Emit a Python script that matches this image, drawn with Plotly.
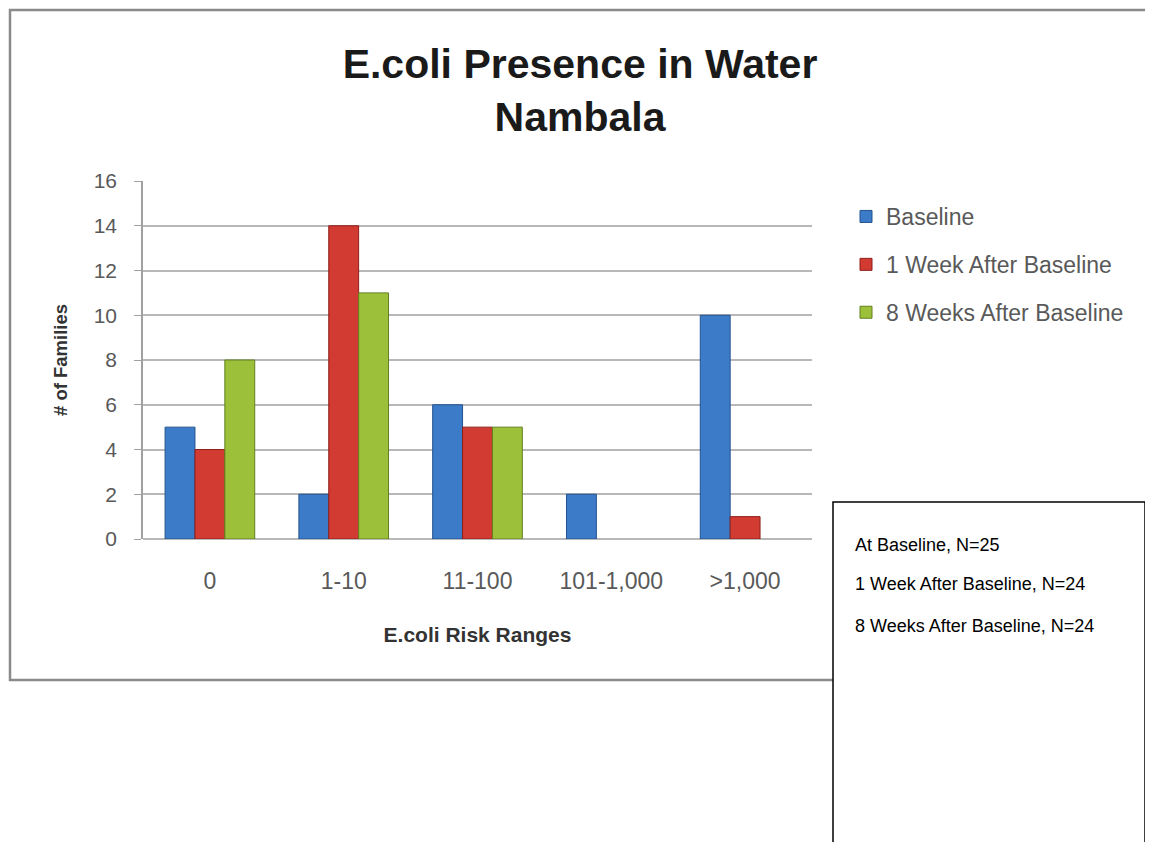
import plotly.graph_objects as go

categories = ["0", "1-10", "11-100", "101-1,000", ">1,000"]
baseline = [5, 2, 6, 2, 10]
week1 = [4, 14, 5, 0, 1]
week8 = [8, 11, 5, 0, 0]
y_ticks = [0, 2, 4, 6, 8, 10, 12, 14, 16]
notes = ["At Baseline, N=25", "1 Week After Baseline, N=24", "8 Weeks After Baseline, N=24"]

OFF = 8  # page body margin
W, H = 1153 - OFF, 842 - OFF
L, R, T, B = 143, 812, 181, 539  # plot area, screen pixels


def px(x):
    return (x - L) / (R - L)


def py(y):
    return (B - y) / (B - T)


font = "Liberation Sans"
fig = go.Figure()

series = [
    ("Baseline", baseline, "#3b7bc8", "#24528f"),
    ("1 Week After Baseline", week1, "#d13b32", "#8e1f1a"),
    ("8 Weeks After Baseline", week8, "#9cc03a", "#62801e"),
]
for i, (name, vals, col, edge) in enumerate(series):
    fig.add_trace(
        go.Bar(
            x=categories,
            y=vals,
            name=name,
            legendgroup=str(i),
            marker=dict(
                color=col,
                line=dict(color=edge, width=[1 if v else 0 for v in vals]),
            ),
        )
    )

fig.update_layout(
    width=W,
    height=H,
    margin=dict(l=L - OFF, r=W - (R - OFF), t=T - OFF, b=H - (B - OFF)),
    paper_bgcolor="white",
    plot_bgcolor="white",
    barmode="group",
    bargap=0.33,
    bargroupgap=0,
    font=dict(family=font, color="#595959"),
    title=dict(
        text="E.coli Presence in Water<br>Nambala",
        x=(580 - OFF) / W,
        xanchor="center",
        y=1 - 70 / H,
        yanchor="middle",
        font=dict(size=41, color="#1a1a1a", family=font, weight="bold"),
    ),
    legend=dict(
        x=px(846),
        y=py(195),
        xanchor="left",
        yanchor="top",
        font=dict(size=23, color="#595959"),
        tracegroupgap=15,
        bgcolor="rgba(0,0,0,0)",
    ),
    xaxis=dict(
        showline=False,
        ticks="",
        ticklabelstandoff=26,
        tickfont=dict(size=23, color="#595959"),
        title=dict(
            text="E.coli Risk Ranges",
            standoff=34,
            font=dict(size=21, color="#333333", weight="bold"),
        ),
    ),
    yaxis=dict(
        range=[0, 16],
        tickvals=y_ticks,
        showgrid=True,
        gridcolor="#b8b8b8",
        gridwidth=1.5,
        showline=True,
        linecolor="#a0a0a0",
        linewidth=1.5,
        ticks="outside",
        ticklen=7,
        tickcolor="#a0a0a0",
        ticklabelstandoff=13,
        tickfont=dict(size=21, color="#595959"),
        zeroline=True,
        zerolinecolor="#b8b8b8",
        zerolinewidth=1.5,
        title=dict(
            text="# of Families",
            standoff=21,
            font=dict(size=18.5, color="#333333", weight="bold"),
        ),
    ),
)

# outer chart border
fig.add_shape(
    type="rect", xref="paper", yref="paper",
    x0=px(10), x1=px(1170), y0=py(680), y1=py(10),
    line=dict(color="#8a8a8a", width=2.5), fillcolor="rgba(0,0,0,0)", layer="above",
)
# overlaid text box
fig.add_shape(
    type="rect", xref="paper", yref="paper",
    x0=px(833), x1=px(1145), y0=py(900), y1=py(502),
    line=dict(color="black", width=1.5), fillcolor="white", layer="above",
)
for txt, yy in zip(notes, [545, 584, 626]):
    fig.add_annotation(
        text=txt, xref="paper", yref="paper", x=px(853), y=py(yy),
        xanchor="left", yanchor="middle", showarrow=False,
        font=dict(size=18, color="black", family=font),
    )

fig.write_html("out.html")
